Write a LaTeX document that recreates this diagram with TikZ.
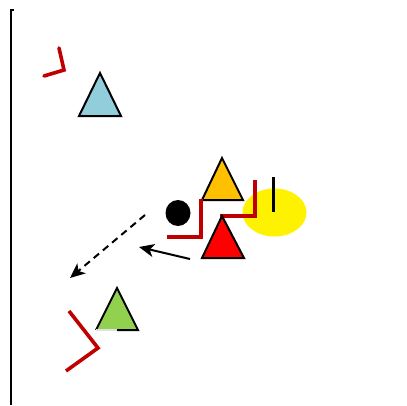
\documentclass[tikz,border=0pt]{standalone}
\usetikzlibrary{arrows.meta}
\definecolor{lblue}{HTML}{92CDDC}
\definecolor{orng}{HTML}{FFC000}
\definecolor{lgreen}{HTML}{92D050}
\definecolor{dred}{HTML}{C00000}
\begin{document}
\begin{tikzpicture}[x=1pt,y=-1pt,
  tri/.style={draw=black,line width=2pt,line join=miter},
  redline/.style={draw=dred,line width=3.6pt},
  arr/.style={draw=black,line width=2pt,-{Stealth[length=15pt,width=13pt,inset=4pt]}}]
\useasboundingbox (0,0) rectangle (407,405);
% axis
\draw[line width=2pt] (14,10) -- (11,10) -- (11,405);
% red marks
\draw[redline,line cap=round] (59,48) -- (64,70) -- (44,76);
\draw[redline] (69,311) -- (98,348) -- (66,371);
% blue triangle
\filldraw[tri,fill=lblue] (100,73) -- (121,116) -- (79,116) -- cycle;
% yellow ellipse
\fill[yellow] (274.5,212.5) ellipse[x radius=32,y radius=24];
\draw[line width=3pt] (273,177) -- (273,212);
% orange triangle
\filldraw[tri,fill=orng] (222,158) -- (243,200) -- (202,200) -- cycle;
% red staircase
\draw[redline] (167,237) -- (201,237) -- (201,199);
\draw[redline] (220,216) -- (255,216) -- (255,180);
% red triangle
\filldraw[tri,fill=red] (222,216) -- (244,258) -- (202,258) -- cycle;
% black circle
\fill[black] (178,213) ellipse[x radius=12.5,y radius=13];
% arrows
\coordinate (d1) at (145,215);
\coordinate (d2) at (70,278);
\draw[arr,dash pattern=on 7pt off 5pt] (d1) -- (d2);
\coordinate (s1) at (190,259);
\coordinate (s2) at (139,247);
\draw[arr] (s1) -- (s2);
% green triangle
\fill[lgreen] (117,288) -- (138,330) -- (96,330) -- cycle;
\draw[tri] (117,330) -- (138,330) -- (117,288) -- (96,330);
\draw[line width=2pt,black!12] (96,330) -- (117,330);
\end{tikzpicture}
\end{document}
